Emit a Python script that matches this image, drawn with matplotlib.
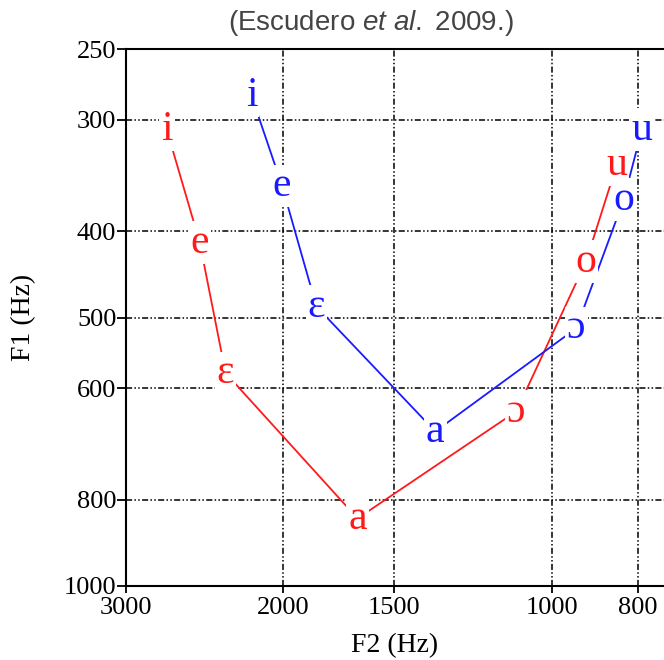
import matplotlib
matplotlib.use("Agg")
import matplotlib.pyplot as plt
from matplotlib.ticker import FixedLocator, FixedFormatter, NullLocator

vowels = ["i", "e", "ɛ", "a", "ɔ", "o", "u"]
# red series
red_f2 = [2700, 2480, 2320, 1650, 1095, 915, 845]
red_f1 = [308, 412, 577, 840, 637, 433, 337]
# blue series
blue_f2 = [2170, 2005, 1835, 1350, 938, 830, 792]
blue_f1 = [282, 356, 486, 671, 514, 369, 308]

xticks = [3000, 2000, 1500, 1000, 800]
yticks = [250, 300, 400, 500, 600, 800, 1000]

plt.rcParams['mathtext.fontset'] = 'custom'
plt.rcParams['mathtext.rm'] = 'Liberation Sans'
plt.rcParams['mathtext.it'] = 'Liberation Sans:italic'

serif = ['Liberation Serif', 'DejaVu Serif']

fig = plt.figure(figsize=(6.64, 6.60), dpi=100)
ax = fig.add_axes([126 / 664, 1 - 586 / 660, 538 / 664, (586 - 49) / 660])

ax.set_xscale('log')
ax.set_yscale('log')
ax.set_xlim(3000, 748)
ax.set_ylim(1000, 250)

ax.xaxis.set_major_locator(FixedLocator(xticks))
ax.xaxis.set_major_formatter(FixedFormatter([str(t) for t in xticks]))
ax.xaxis.set_minor_locator(NullLocator())
ax.yaxis.set_major_locator(FixedLocator(yticks))
ax.yaxis.set_major_formatter(FixedFormatter([str(t) for t in yticks]))
ax.yaxis.set_minor_locator(NullLocator())

ax.grid(True, color='black', linewidth=1.1, linestyle=(0, (4, 1.5, 1, 1.5, 1, 1.5)))
ax.set_axisbelow(True)

for s in ['left', 'bottom', 'top']:
    ax.spines[s].set_linewidth(1.5)
ax.spines['right'].set_visible(False)

ax.tick_params(axis='x', direction='out', length=5, width=1.3, labelsize=19, pad=3)
ax.tick_params(axis='y', direction='out', length=6.5, width=1.3, labelsize=19, pad=0.5)
for lab in ax.get_xticklabels() + ax.get_yticklabels():
    lab.set_family(serif)

ax.plot(red_f2, red_f1, color='#ff1a1a', linewidth=1.3, zorder=2)
ax.plot(blue_f2, blue_f1, color='#1a1aff', linewidth=1.3, zorder=2)

bb = dict(boxstyle='square,pad=0.05', facecolor='white', edgecolor='none')
for v, x, y in zip(vowels, red_f2, red_f1):
    ax.text(x, y, v, color='#ff1a1a', fontsize=30, family=serif,
            ha='center', va='center', bbox=bb, zorder=3)
for v, x, y in zip(vowels, blue_f2, blue_f1):
    ax.text(x, y, v, color='#1a1aff', fontsize=30, family=serif,
            ha='center', va='center', bbox=bb, zorder=3)

ax.set_xlabel('F2 (Hz)', fontsize=20, family=serif)
ax.set_ylabel('F1 (Hz)', fontsize=20, family=serif)
ax.xaxis.set_label_coords(0.5, -0.087)
ax.yaxis.set_label_coords(-(126 - 36) / 538, 0.5)

fig.text(371 / 664, 1 - 23 / 660, r'(Escudero $\mathit{et\ al.}$ 2009.)',
         fontsize=20, color='#444444', family='Liberation Sans',
         ha='center', va='center')

fig.savefig('out.png', dpi=100)
